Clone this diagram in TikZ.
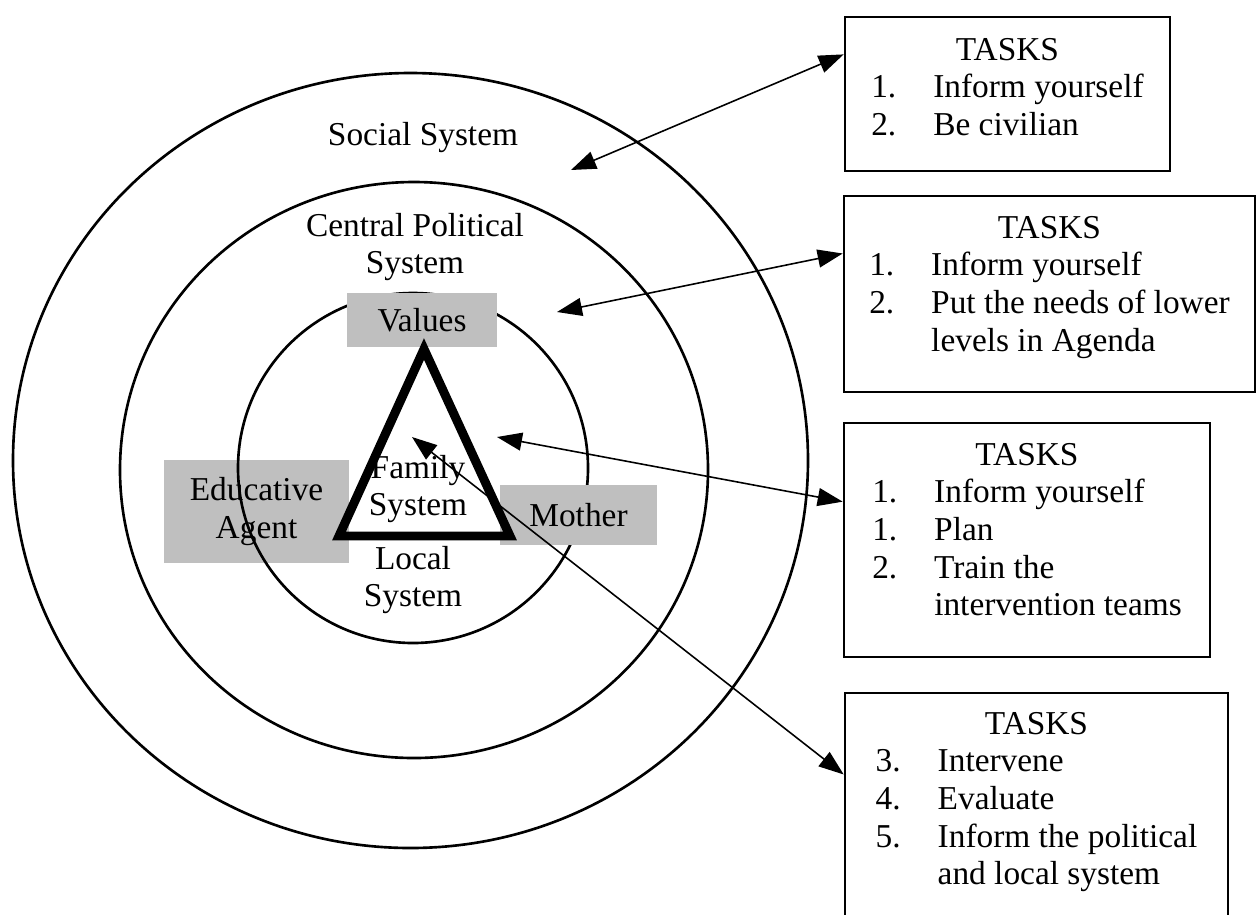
\documentclass[tikz,border=0pt]{standalone}
\usepackage{fontspec}
\setmainfont{Liberation Serif}
\usetikzlibrary{arrows.meta,calc,fit,positioning}
\definecolor{greyColor}{RGB}{191,191,191}
\tikzset{ring/.style={line width=1.5pt}}
\tikzset{greybox/.style={fill=greyColor, inner sep=0pt, align=center}}
\tikzset{systext/.style={align=center, inner sep=0pt}}
\tikzset{taskbox/.style={draw, line width=1.5pt, inner sep=0pt}}
\tikzset{tasklist/.style={inner sep=0pt, anchor=north}}
\tikzset{twoway/.style={line width=0.9pt, >={Triangle[length=0.5cm,width=0.36cm]}, <->}}

\begin{document}
\begin{tikzpicture}[x=0.02cm, y=-0.02cm, font=\fontsize{19pt}{21.4pt}\selectfont]
\useasboundingbox (0,0) rectangle (1257,914);
\clip (0,0) rectangle (1257,914);

% Rings
\draw [ring] (410.5,460.5) ellipse [x radius=397.5, y radius=387.5];
\draw [ring] (414,470) ellipse [x radius=294, y radius=288];
\node (educ) [greybox, minimum width=3.7cm, minimum height=2.06cm] at (256.5,511.5) {Educative\\Agent};
\draw [ring] (413,468) circle [radius=175];

% Nodes
\node (values) [greybox, minimum width=3cm, minimum height=1.08cm] at (422,320) {Values};
\node (mother) [greybox, minimum width=3.14cm, minimum height=1.2cm] at (578.5,515) {Mother};

\draw [line width=5.1pt, line join=miter] (424,349) -- (339,536) -- (510,536) -- cycle;

\node (social) [systext] at (423,138) {Social System};
\node (central) [systext] at (415,247) {Central Political\\System};
\node (family) [systext] at (418,489) {Family\\System};
\node (local) [systext] at (413,580) {Local\\System};

\node (task1) [taskbox, fit={(845,17) (1170,171)}] {};
\node (list1) [tasklist] at ($(task1.north)+(0,18)$) {\begin{tabular}{@{}p{1.24cm}@{}l@{}}
\multicolumn{2}{@{}c@{}}{TASKS}\\
1. & Inform yourself\\
2. & Be civilian
\end{tabular}};

\node (task2) [taskbox, fit={(844,196) (1255,392)}] {};
\node (list2) [tasklist] at ($(task2.north)+(0,17)$) {\begin{tabular}{@{}p{1.24cm}@{}l@{}}
\multicolumn{2}{@{}c@{}}{TASKS}\\
1. & Inform yourself\\
2. & Put the needs of lower\\
 & levels in Agenda
\end{tabular}};

\node (task3) [taskbox, fit={(844,423) (1210,657)}] {};
\node (list3) [tasklist] at ($(task3.north)+(0,17)$) {\begin{tabular}{@{}p{1.24cm}@{}l@{}}
\multicolumn{2}{@{}c@{}}{TASKS}\\
1. & Inform yourself\\
1. & Plan\\
2. & Train the\\
 & intervention teams
\end{tabular}};

\node (task4) [taskbox, fit={(845,693) (1228,960)}] {};
\node (list4) [tasklist] at ($(task4.north)+(0,16)$) {\begin{tabular}{@{}p{1.24cm}@{}l@{}}
\multicolumn{2}{@{}c@{}}{TASKS}\\
3. & Intervene\\
4. & Evaluate\\
5. & Inform the political\\
 & and local system
\end{tabular}};

\coordinate (socialEnd) at (571,170);
\coordinate (centralEnd) at (557,312);
\coordinate (localEnd) at (497,437);
\coordinate (familyEnd) at (412,437);

% Connectors
\begin{scope}[twoway]
\draw (socialEnd) -- ($(task1.north west)!0.247!(task1.south west)$);
\draw (centralEnd) -- ($(task2.north west)!0.296!(task2.south west)$);
\draw (localEnd) -- ($(task3.north west)!0.338!(task3.south west)$);
\draw (familyEnd) -- ($(task4.north west)!0.307!(task4.south west)$);
\end{scope}

\end{tikzpicture}
\end{document}
